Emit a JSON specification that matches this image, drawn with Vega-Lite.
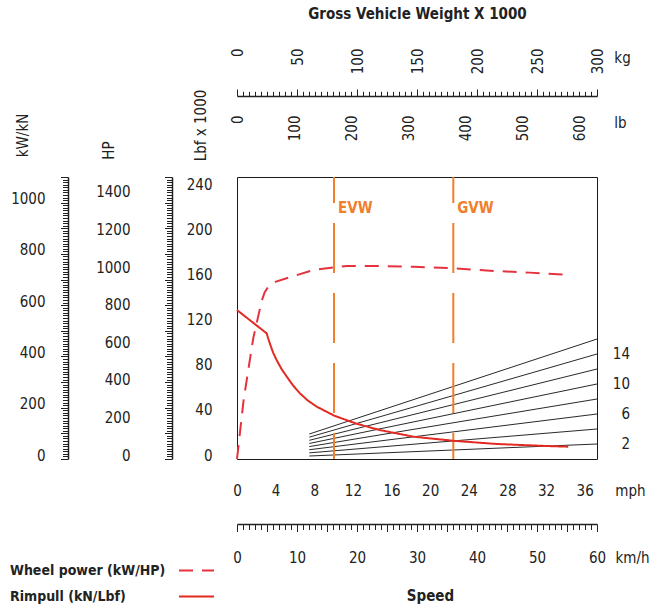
{
  "$schema": "https://vega.github.io/schema/vega-lite/v6.json",
  "width": 360,
  "height": 282,
  "autosize": "none",
  "padding": {"left": 237, "top": 177, "right": 54, "bottom": 148},
  "background": "white",
  "datasets": {
    "curves": [
      {"series": "Wheel power (kW/HP)", "kmh": 0, "v": 0},
      {"series": "Wheel power (kW/HP)", "kmh": 1.1, "v": 230},
      {"series": "Wheel power (kW/HP)", "kmh": 2.7, "v": 470},
      {"series": "Wheel power (kW/HP)", "kmh": 4.1, "v": 615},
      {"series": "Wheel power (kW/HP)", "kmh": 4.6, "v": 650},
      {"series": "Wheel power (kW/HP)", "kmh": 5.2, "v": 672},
      {"series": "Wheel power (kW/HP)", "kmh": 6.5, "v": 692},
      {"series": "Wheel power (kW/HP)", "kmh": 8.8, "v": 709},
      {"series": "Wheel power (kW/HP)", "kmh": 12.7, "v": 737},
      {"series": "Wheel power (kW/HP)", "kmh": 16.2, "v": 748},
      {"series": "Wheel power (kW/HP)", "kmh": 18.3, "v": 753},
      {"series": "Wheel power (kW/HP)", "kmh": 23.8, "v": 753},
      {"series": "Wheel power (kW/HP)", "kmh": 29.4, "v": 750},
      {"series": "Wheel power (kW/HP)", "kmh": 36.1, "v": 744},
      {"series": "Wheel power (kW/HP)", "kmh": 43.3, "v": 733},
      {"series": "Wheel power (kW/HP)", "kmh": 48.8, "v": 727},
      {"series": "Wheel power (kW/HP)", "kmh": 55.2, "v": 718},
      {"series": "Rimpull (kN/Lbf)", "kmh": 0, "v": 581},
      {"series": "Rimpull (kN/Lbf)", "kmh": 4.95, "v": 490},
      {"series": "Rimpull (kN/Lbf)", "kmh": 5.2, "v": 470},
      {"series": "Rimpull (kN/Lbf)", "kmh": 5.5, "v": 449},
      {"series": "Rimpull (kN/Lbf)", "kmh": 6.0, "v": 416},
      {"series": "Rimpull (kN/Lbf)", "kmh": 6.6, "v": 386},
      {"series": "Rimpull (kN/Lbf)", "kmh": 7.4, "v": 352},
      {"series": "Rimpull (kN/Lbf)", "kmh": 8.3, "v": 321},
      {"series": "Rimpull (kN/Lbf)", "kmh": 9.3, "v": 288},
      {"series": "Rimpull (kN/Lbf)", "kmh": 10.5, "v": 256},
      {"series": "Rimpull (kN/Lbf)", "kmh": 11.8, "v": 228},
      {"series": "Rimpull (kN/Lbf)", "kmh": 13.3, "v": 204},
      {"series": "Rimpull (kN/Lbf)", "kmh": 16.2, "v": 169},
      {"series": "Rimpull (kN/Lbf)", "kmh": 20, "v": 137},
      {"series": "Rimpull (kN/Lbf)", "kmh": 23.8, "v": 113},
      {"series": "Rimpull (kN/Lbf)", "kmh": 29.4, "v": 87},
      {"series": "Rimpull (kN/Lbf)", "kmh": 36.1, "v": 71},
      {"series": "Rimpull (kN/Lbf)", "kmh": 43.3, "v": 58.5},
      {"series": "Rimpull (kN/Lbf)", "kmh": 51.6, "v": 50.7},
      {"series": "Rimpull (kN/Lbf)", "kmh": 55.2, "v": 48}
    ],
    "gear": [
      {"grade": 2, "kmh": 12.05, "v": 11.7}, {"grade": 2, "kmh": 60, "v": 58.5},
      {"grade": 4, "kmh": 12.05, "v": 23.9}, {"grade": 4, "kmh": 60, "v": 117},
      {"grade": 6, "kmh": 12.05, "v": 36.1}, {"grade": 6, "kmh": 60, "v": 175.5},
      {"grade": 8, "kmh": 12.05, "v": 48.4}, {"grade": 8, "kmh": 60, "v": 234},
      {"grade": 10, "kmh": 12.05, "v": 60.6}, {"grade": 10, "kmh": 60, "v": 292.6},
      {"grade": 12, "kmh": 12.05, "v": 72.9}, {"grade": 12, "kmh": 60, "v": 351},
      {"grade": 14, "kmh": 12.05, "v": 85.2}, {"grade": 14, "kmh": 60, "v": 409.6},
      {"grade": 16, "kmh": 12.05, "v": 97.5}, {"grade": 16, "kmh": 60, "v": 468}
    ],
    "weights": [
      {"label": "EVW", "kmh": 16.17},
      {"label": "GVW", "kmh": 36.05}
    ],
    "one": [{"k": 0}]
  },
  "config": {
    "view": {"stroke": "#1a1a1a", "strokeWidth": 1},
    "font": "DejaVu Sans Condensed",
    "axis": {
      "labelFont": "DejaVu Sans Condensed",
      "labelFontSize": 15,
      "labelColor": "#222",
      "titleFont": "DejaVu Sans Condensed",
      "titleFontSize": 15,
      "titleFontWeight": "normal",
      "titleColor": "#222",
      "grid": false,
      "domainColor": "#222",
      "tickColor": "#222",
      "labelPadding": 0,
      "labelOverlap": false,
      "labelFlush": false,
      "labelBound": false,
      "format": "d"
    },
    "legend": {
      "orient": "none",
      "legendX": -59,
      "legendY": 375,
      "padding": 0,
      "symbolType": "stroke",
      "symbolSize": 1225,
      "symbolStrokeWidth": 2,
      "labelAlign": "left",
      "labelOffset": -205,
      "labelFont": "DejaVu Sans Condensed",
      "labelFontSize": 14,
      "labelFontWeight": "bold",
      "labelColor": "#222",
      "labelLimit": 400,
      "rowPadding": -8
    }
  },
  "layer": [
    {
      "layer": [
        {
          "data": {"name": "gear"},
          "mark": {"type": "line", "color": "#111", "strokeWidth": 0.9},
          "encoding": {
            "x": {"field": "kmh", "type": "quantitative", "scale": {"domain": [0, 60], "nice": false, "zero": false}, "axis": null},
            "y": {"field": "v", "type": "quantitative", "scale": {"domain": [0, 1100], "nice": false, "zero": false}, "axis": null},
            "detail": {"field": "grade", "type": "nominal"}
          }
        },
        {
          "data": {"name": "gear"},
          "transform": [
            {"filter": {"field": "kmh", "equal": 60}},
            {"filter": {"field": "grade", "oneOf": [2, 6, 10, 14]}}
          ],
          "mark": {"type": "text", "align": "right", "baseline": "middle", "dx": 33, "fontSize": 15, "color": "#222", "font": "DejaVu Sans Condensed"},
          "encoding": {
            "x": {"field": "kmh", "type": "quantitative"},
            "y": {"field": "v", "type": "quantitative"},
            "text": {"field": "grade", "type": "nominal"}
          }
        },
        {
          "data": {"name": "weights"},
          "mark": {"type": "rule", "color": "#f07f2c", "strokeWidth": 2, "strokeDash": [50, 20], "strokeDashOffset": 24},
          "encoding": {
            "x": {"field": "kmh", "type": "quantitative"}
          }
        },
        {
          "data": {"name": "weights"},
          "mark": {"type": "text", "align": "left", "baseline": "middle", "dx": 4, "fontSize": 15, "fontWeight": "bold", "color": "#f07f2c", "font": "DejaVu Sans Condensed"},
          "encoding": {
            "x": {"field": "kmh", "type": "quantitative"},
            "y": {"datum": 980, "type": "quantitative"},
            "text": {"field": "label", "type": "nominal"}
          }
        },
        {
          "data": {"name": "curves"},
          "mark": {"type": "line", "strokeWidth": 2},
          "encoding": {
            "x": {"field": "kmh", "type": "quantitative"},
            "y": {"field": "v", "type": "quantitative"},
            "color": {"field": "series", "type": "nominal", "scale": {"domain": ["Wheel power (kW/HP)", "Rimpull (kN/Lbf)"], "range": ["#e6323e", "#e32a22"]}, "legend": {"title": null}},
            "strokeDash": {"field": "series", "type": "nominal", "scale": {"domain": ["Wheel power (kW/HP)", "Rimpull (kN/Lbf)"], "range": [[14, 9], [1, 0]]}, "legend": {"title": null}}
          }
        }
      ]
    },
    {
      "data": {"name": "one"},
      "mark": {"type": "point", "opacity": 0},
      "encoding": {
        "y": {"datum": 0, "type": "quantitative", "scale": {"domain": [0, 1100], "nice": false, "zero": false},
          "axis": {"orient": "left", "offset": 169, "tickCount": 110, "labels": false, "domain": true, "domainWidth": 1.5, "ticks": true, "tickWidth": 1, "tickSize": {"condition": {"test": "datum.value % 100 === 0", "value": 7.5}, "value": 5.5}, "title": null}}
      }
    },
    {
      "data": {"name": "one"},
      "mark": {"type": "point", "opacity": 0},
      "encoding": {
        "y": {"datum": 0, "type": "quantitative", "scale": {"domain": [0, 1100], "nice": false, "zero": false},
          "axis": {"orient": "left", "offset": 192, "values": [0, 200, 400, 600, 800, 1000], "ticks": false, "domain": false, "labelAlign": "right", "labelBaseline": "middle", "labelOffset": -4,
            "title": "kW/kN", "titleAngle": 270, "titleX": -23, "titleY": -42, "titleAlign": "center", "titleBaseline": "middle"}}
      }
    },
    {
      "data": {"name": "one"},
      "mark": {"type": "point", "opacity": 0},
      "encoding": {
        "y": {"datum": 0, "type": "quantitative", "scale": {"domain": [0, 1500], "nice": false, "zero": false},
          "axis": {"orient": "left", "offset": 107, "values": [0, 200, 400, 600, 800, 1000, 1200, 1400], "ticks": false, "domain": false, "labelAlign": "right", "labelBaseline": "middle", "labelOffset": -4,
            "title": "HP", "titleAngle": 270, "titleX": -22, "titleY": -27, "titleAlign": "center", "titleBaseline": "middle"}}
      }
    },
    {
      "data": {"name": "one"},
      "mark": {"type": "point", "opacity": 0},
      "encoding": {
        "y": {"datum": 0, "type": "quantitative", "scale": {"domain": [0, 1100], "nice": false, "zero": false},
          "axis": {"orient": "left", "offset": 65, "tickCount": 110, "labels": false, "domain": true, "domainWidth": 1.5, "ticks": true, "tickWidth": 1, "tickSize": {"condition": {"test": "datum.value % 100 === 0", "value": 7.5}, "value": 5.5}, "title": null}}
      }
    },
    {
      "data": {"name": "one"},
      "mark": {"type": "point", "opacity": 0},
      "encoding": {
        "y": {"datum": 0, "type": "quantitative", "scale": {"domain": [0, 250], "nice": false, "zero": false},
          "axis": {"orient": "left", "offset": 25, "values": [0, 40, 80, 120, 160, 200, 240], "ticks": false, "domain": false, "labelAlign": "right", "labelBaseline": "middle", "labelOffset": -4,
            "title": "Lbf x 1000", "titleAngle": 270, "titleX": -12, "titleY": -52, "titleAlign": "center", "titleBaseline": "middle"}}
      }
    },
    {
      "data": {"name": "one"},
      "mark": {"type": "point", "opacity": 0},
      "encoding": {
        "x": {"datum": 0, "type": "quantitative", "scale": {"domain": [0, 300], "nice": false, "zero": false},
          "axis": {"orient": "top", "offset": 81, "tickCount": 60, "labels": false, "domain": true, "domainWidth": 1.5, "ticks": true, "tickWidth": 1, "tickSize": {"condition": {"test": "datum.value % 50 === 0", "value": 7}, "value": 4.7},
            "title": "Gross Vehicle Weight X 1000", "titleFontWeight": "bold", "titleX": 180, "titleY": -83, "titleAngle": 0, "titleAlign": "center", "titleBaseline": "middle"}}
      }
    },
    {
      "data": {"name": "one"},
      "mark": {"type": "point", "opacity": 0},
      "encoding": {
        "x": {"datum": 0, "type": "quantitative", "scale": {"domain": [0, 300], "nice": false, "zero": false},
          "axis": {"orient": "top", "offset": 129, "values": [0, 50, 100, 150, 200, 250, 300], "ticks": false, "domain": false, "labelAngle": 270, "labelAlign": "right", "labelBaseline": "middle",
            "title": "kg", "titleX": 385, "titleY": 9, "titleAngle": 0, "titleAlign": "center", "titleBaseline": "middle"}}
      }
    },
    {
      "data": {"name": "one"},
      "mark": {"type": "point", "opacity": 0},
      "encoding": {
        "x": {"datum": 0, "type": "quantitative", "scale": {"domain": [0, 630], "nice": false, "zero": false},
          "axis": {"orient": "top", "offset": 62, "values": [0, 100, 200, 300, 400, 500, 600], "ticks": false, "domain": false, "labelAngle": 270, "labelAlign": "right", "labelBaseline": "middle",
            "title": "lb", "titleX": 383, "titleY": 7, "titleAngle": 0, "titleAlign": "center", "titleBaseline": "middle"}}
      }
    },
    {
      "data": {"name": "one"},
      "mark": {"type": "point", "opacity": 0},
      "encoding": {
        "x": {"datum": 0, "type": "quantitative", "scale": {"domain": [0, 37.28], "nice": false, "zero": false},
          "axis": {"orient": "bottom", "offset": 31, "values": [0, 4, 8, 12, 16, 20, 24, 28, 32, 36], "ticks": false, "domain": false, "labelBaseline": "middle", "labelAlign": "center",
            "title": "mph", "titleX": 393, "titleY": 0, "titleAngle": 0, "titleAlign": "center", "titleBaseline": "middle"}}
      }
    },
    {
      "data": {"name": "one"},
      "mark": {"type": "point", "opacity": 0},
      "encoding": {
        "x": {"datum": 0, "type": "quantitative", "scale": {"domain": [0, 60], "nice": false, "zero": false},
          "axis": {"orient": "bottom", "offset": 65, "tickCount": 60, "labels": false, "domain": true, "domainWidth": 1.5, "ticks": true, "tickWidth": 1, "tickSize": {"condition": {"test": "datum.value % 5 === 0", "value": 7.5}, "value": 5.5},
            "title": "Speed", "titleFontWeight": "bold", "titleX": 193, "titleY": 71, "titleAngle": 0, "titleAlign": "center", "titleBaseline": "middle"}}
      }
    },
    {
      "data": {"name": "one"},
      "mark": {"type": "point", "opacity": 0},
      "encoding": {
        "x": {"datum": 0, "type": "quantitative", "scale": {"domain": [0, 60], "nice": false, "zero": false},
          "axis": {"orient": "bottom", "offset": 98, "values": [0, 10, 20, 30, 40, 50, 60], "ticks": false, "domain": false, "labelBaseline": "middle", "labelAlign": "center",
            "title": "km/h", "titleX": 395, "titleY": 0, "titleAngle": 0, "titleAlign": "center", "titleBaseline": "middle"}}
      }
    }
  ],
  "resolve": {
    "scale": {"x": "independent", "y": "independent"},
    "axis": {"x": "independent", "y": "independent"}
  }
}
